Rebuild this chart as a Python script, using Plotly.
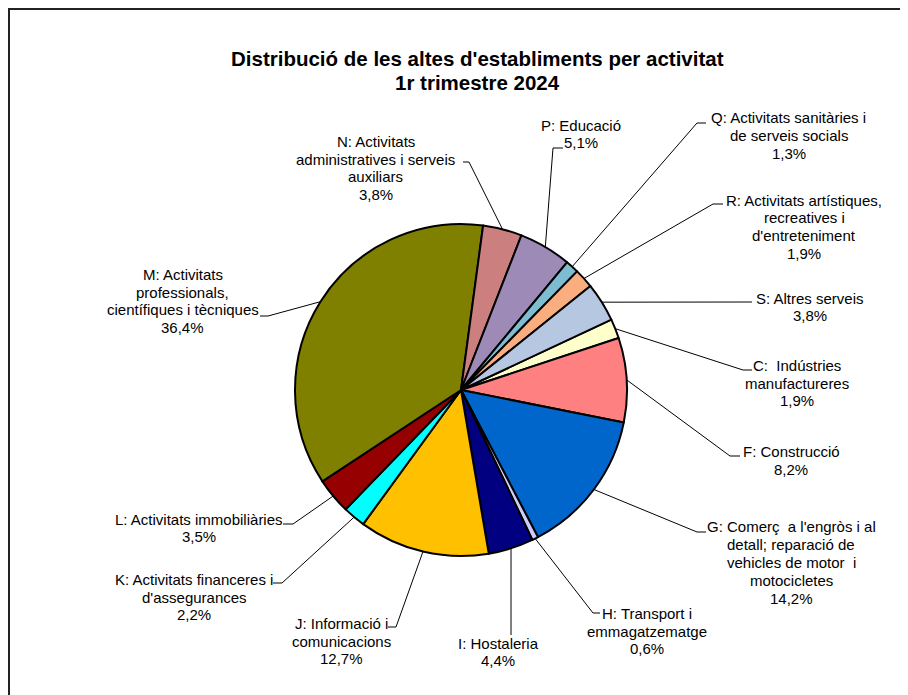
import math

import plotly.graph_objects as go

W, H = 908, 695
PAGE_MARGIN = 8  # browser body margin: the figure starts 8px in

codes = ["C", "F", "G", "H", "I", "J", "K", "L", "M", "N", "P", "Q", "R", "S"]
names = [
    "C:  Indústries\nmanufactureres",
    "F: Construcció",
    "G: Comerç  a l'engròs i al\ndetall; reparació de\nvehicles de motor  i\nmotocicletes",
    "H: Transport i\nemmagatzematge",
    "I: Hostaleria",
    "J: Informació i\ncomunicacions",
    "K: Activitats financeres i\nd'assegurances",
    "L: Activitats immobiliàries",
    "M: Activitats\nprofessionals,\ncientífiques i tècniques",
    "N: Activitats\nadministratives i serveis\nauxiliars",
    "P: Educació",
    "Q: Activitats sanitàries i\nde serveis socials",
    "R: Activitats artístiques,\nrecreatives i\nd'entreteniment",
    "S: Altres serveis",
]
shares = [1.9, 8.2, 14.2, 0.6, 4.4, 12.7, 2.2, 3.5, 36.4, 3.8, 5.1, 1.3, 1.9, 3.8]
colors = [
    "#FFFFCC", "#FF8080", "#0066CC", "#CCCCFF", "#000080", "#FFC000", "#00FFFF",
    "#960000", "#808000", "#CC7F7F", "#9D8AB7", "#7EBCD1", "#FAAE7F", "#B6C7E2",
]

# layout (window pixels): pie centre/radius, label centres and leader-line anchors
CX, CY, R = 461, 390, 166
ROTATION = 64.9
LINE_H = 17.8
FONT = "Liberation Sans, Arial, sans-serif"
label_xy = {
    "C": (797, 383), "F": (791, 460.5), "G": (791, 562.4), "H": (647, 631),
    "I": (498, 652), "J": (341, 641), "K": (194, 597), "L": (199, 528),
    "M": (182.5, 301), "N": (375.5, 168), "P": (581, 134), "Q": (788.5, 135.3),
    "R": (804, 226.8), "S": (810, 307),
}
leader = {
    "C": [(743, 370), (752, 370)], "F": [(730, 456), (740, 456)],
    "G": [(697, 532), (706, 532)], "H": [(593, 613), (600, 613)],
    "I": [(511, 635)], "J": [(396, 627), (388, 627)],
    "K": [(282, 583), (273, 583)], "L": [(293, 524), (283, 524)],
    "M": [(268, 316), (260, 316)], "N": [(469, 162), (463, 162)],
    "P": [(553, 148), (563, 148)], "Q": [(697, 123), (706, 123)],
    "R": [(713, 204), (723, 204)], "S": [(752, 302)],
}

FW, FH = W - PAGE_MARGIN, H - PAGE_MARGIN

fig = go.Figure()

fig.add_trace(go.Pie(
    values=shares, labels=codes, sort=False, direction="clockwise",
    rotation=ROTATION, textinfo="none", hoverinfo="none", showlegend=False,
    marker=dict(colors=colors, line=dict(color="black", width=2)),
    domain=dict(
        x=[(CX - R - PAGE_MARGIN) / FW, (CX + R - PAGE_MARGIN) / FW],
        y=[(H - CY - R) / FH, (H - CY + R) / FH],
    ),
))

# leader lines from the middle of each slice's rim to its label
lx, ly = [], []
total = sum(shares)
start = ROTATION
for code, v in zip(codes, shares):
    mid = math.radians(start + v / total * 180)
    pts = [(CX + R * math.sin(mid), CY - R * math.cos(mid))] + leader[code]
    lx += [p[0] for p in pts] + [None]
    ly += [p[1] for p in pts] + [None]
    start += v / total * 360
fig.add_trace(go.Scatter(x=lx, y=ly, mode="lines", line=dict(color="black", width=1),
                         hoverinfo="skip", showlegend=False))

annotations = []
for code, name, v in zip(codes, names, shares):
    lines = name.split("\n") + [f"{v:.1f}".replace(".", ",") + "%"]
    cx, cy = label_xy[code]
    n = len(lines)
    for i, t in enumerate(lines):
        annotations.append(dict(
            x=cx, y=cy + (i - (n - 1) / 2) * LINE_H, xref="x", yref="y", text=t,
            showarrow=False, xanchor="center", yanchor="middle",
            font=dict(family=FONT, size=15, color="black"),
        ))

for t, y in [("Distribució de les altes d'establiments per activitat", 58), ("1r trimestre 2024", 82)]:
    annotations.append(dict(
        x=477, y=y, xref="x", yref="y", text=f"<b>{t}</b>", showarrow=False,
        xanchor="center", yanchor="middle", font=dict(family=FONT, size=20.5, color="black"),
    ))

fig.update_layout(
    width=FW, height=FH,
    margin=dict(l=0, r=0, t=0, b=0),
    paper_bgcolor="white", plot_bgcolor="white",
    xaxis=dict(range=[PAGE_MARGIN, W], visible=False, fixedrange=True),
    yaxis=dict(range=[H, PAGE_MARGIN], visible=False, fixedrange=True),
    annotations=annotations,
    shapes=[dict(type="rect", xref="x", yref="y", x0=9, y0=9, x1=W + 10, y1=H + 10,
                 line=dict(color="#222222", width=2))],
)

fig.write_html("out.html")
